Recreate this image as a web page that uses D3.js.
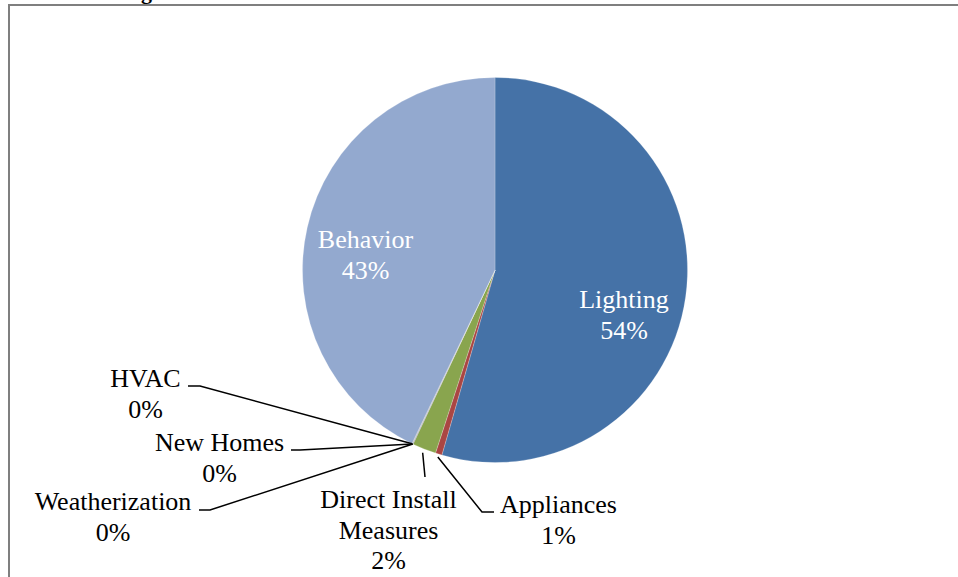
<!DOCTYPE html>
<html>
<head>
<meta charset="utf-8">
<script src="https://cdn.jsdelivr.net/npm/d3@7"></script>
<style>
  html, body { margin: 0; padding: 0; background: #fff; }
  svg { display: block; }
  text { font-family: "Liberation Serif", "Times New Roman", serif; }
</style>
</head>
<body>
<svg id="chart" width="958" height="577"></svg>
<script>
// Share of savings by program (percent)
const categories = ["Lighting", "Appliances", "Direct Install Measures", "Weatherization", "New Homes", "HVAC", "Behavior"];
const labelLines = [["Lighting"], ["Appliances"], ["Direct Install", "Measures"], ["Weatherization"], ["New Homes"], ["HVAC"], ["Behavior"]];
const shares = [54.45, 0.55, 2.0, 0.04, 0.03, 0.03, 42.9];
const colors = ["#4572A7", "#AA4643", "#89A54E", "#71588F", "#4198AF", "#DB843D", "#93A9CF"];

const W = 958, H = 577;
const cx = 495, cy = 270, R = 192.5;
const fontSize = 26, lineGap = 30.5;

// Label placement relative to the pie centre: text centre x, first baseline y,
// inside or outside, and for outside labels the leader path (elbow, end) and
// how far past the rim the leader begins.
const labelLayout = [
  { dx: 129,    dy: 38,  inside: true },
  { dx: 63.5,   dy: 243, inside: false, gap: 3, elbow: [-13, 242], end: [-1, 242] },
  { dx: -106.5, dy: 238, inside: false, gap: 4, elbow: null, end: [-70, 207] },
  { dx: -382,   dy: 240, inside: false, gap: 0, elbow: [-285, 240], end: [-296, 240] },
  { dx: -275.5, dy: 181, inside: false, gap: 0, elbow: [-195, 180], end: [-204, 180] },
  { dx: -349.5, dy: 117, inside: false, gap: 0, elbow: [-295, 116], end: [-307, 116] },
  { dx: -129.5, dy: -22, inside: true }
];

const svg = d3.select("#chart");

// chart frame
svg.append("rect")
  .attr("x", 9).attr("y", 5)
  .attr("width", 1000).attr("height", 700)
  .attr("fill", "none")
  .attr("stroke", "#7f7f7f")
  .attr("stroke-width", 2);

// tail of the heading above the frame
svg.append("text")
  .attr("x", 141).attr("y", -1)
  .attr("font-size", 22).attr("font-weight", "bold")
  .attr("fill", "#000")
  .text("g");

const pie = d3.pie().sort(null).value(d => d).startAngle(0).endAngle(2 * Math.PI);
const arcs = pie(shares);
const arc = d3.arc().innerRadius(0).outerRadius(R);

const g = svg.append("g").attr("transform", `translate(${cx},${cy})`);

g.selectAll("path.slice")
  .data(arcs)
  .join("path")
  .attr("class", "slice")
  .attr("d", arc)
  .attr("fill", (d, i) => colors[i])
  .attr("stroke", "rgba(255,255,255,0.35)")
  .attr("stroke-width", 0.6);

// leader lines for the outside labels
arcs.forEach((d, i) => {
  const L = labelLayout[i];
  if (L.inside) return;
  const mid = (d.startAngle + d.endAngle) / 2;
  const rr = R + L.gap;
  const start = [rr * Math.sin(mid), -rr * Math.cos(mid)];
  const pts = [start];
  if (L.elbow) pts.push(L.elbow);
  pts.push(L.end);
  g.append("path")
    .attr("d", d3.line()(pts))
    .attr("fill", "none")
    .attr("stroke", "#000")
    .attr("stroke-width", 1.5);
});

// labels: category name and rounded share
arcs.forEach((d, i) => {
  const L = labelLayout[i];
  const lines = labelLines[i].concat([Math.round(shares[i]) + "%"]);
  const t = g.append("text")
    .attr("text-anchor", "middle")
    .attr("font-size", fontSize)
    .attr("fill", L.inside ? "#fff" : "#000");
  lines.forEach((s, k) => {
    t.append("tspan")
      .attr("x", L.dx)
      .attr("y", L.dy + k * lineGap)
      .text(s);
  });
});
</script>
</body>
</html>
